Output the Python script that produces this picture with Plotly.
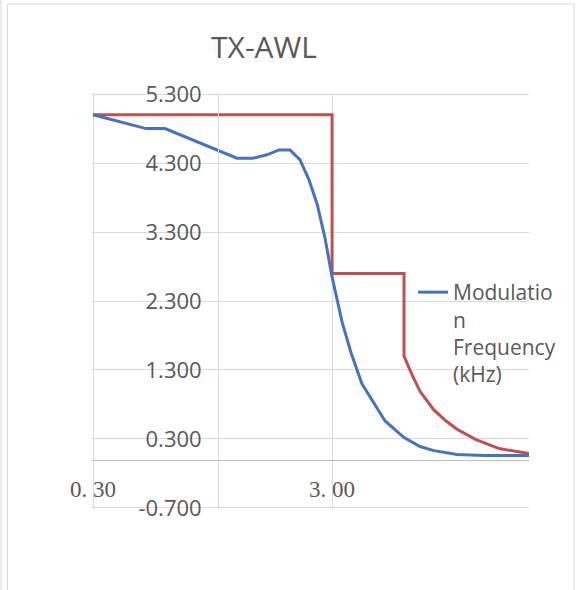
import math
import plotly.graph_objects as go

# ---- data ----
blue_x = [0.3, 0.5, 0.6, 1.2, 1.4, 1.6, 1.8, 2.0, 2.2, 2.4, 2.6, 2.8, 3.0,
          3.3, 3.6, 4.0, 5.0, 6.0, 7.0, 8.0, 10.0, 13.0, 20.0]
blue_y = [5.0, 4.8, 4.8, 4.37, 4.37, 4.42, 4.49, 4.49, 4.35, 4.06, 3.7, 3.22, 2.65,
          2.0, 1.55, 1.1, 0.56, 0.32, 0.19, 0.13, 0.075, 0.06, 0.06]

red_x = [0.3, 3.0, 3.0, 6.0, 6.0, 6.5, 7.0, 8.0, 9.0, 10.0, 12.0, 15.0, 20.0]
red_y = [5.0, 5.0, 2.7, 2.7, 1.5, 1.22, 0.99, 0.72, 0.56, 0.44, 0.29, 0.16, 0.087]

series_name = "Modulatio<br>n<br>Frequency<br>(kHz)"
title_text = "TX-AWL"

x_tick_vals = [0.3, 3.0]
x_tick_text = ["0. 30", "3. 00"]
y_tick_vals = [-0.7, 0.3, 1.3, 2.3, 3.3, 4.3, 5.3]
y_tick_text = ["-0.700", "0.300", "1.300", "2.300", "3.300", "4.300", "5.300"]

x_range = [0.3, 20.0]
y_range = [-0.7, 5.3]
x_cross = 1.0   # vertical axis crosses the x axis here
y_cross = 0.0   # horizontal axis crosses the y axis here

# ---- layout geometry ----
W, H = 579, 590
ML, MR, MT, MB = 92, 50, 93, 81
pw, ph = W - ML - MR, H - MT - MB

def px_to_paper_x(px):
    return (px - ML) / pw

def px_to_paper_y(py):
    return 1 - (py - MT) / ph

# small padding so the edge gridlines (0.3, -0.7, 5.3) stay visible
eps_x, eps_y = 0.0045, 0.016
lx0, lx1 = math.log10(x_range[0]) - eps_x, math.log10(x_range[1])
yr0, yr1 = y_range[0] - eps_y, y_range[1] + eps_y
yaxis_pos = (math.log10(x_cross) - lx0) / (lx1 - lx0)
xaxis_pos = (y_cross - yr0) / (yr1 - yr0)

grid = "#d9d9d9"
text_col = "#595959"

fig = go.Figure()
fig.add_trace(go.Scatter(x=red_x, y=red_y, mode="lines", name="Limit",
                         line=dict(color="#C0504D", width=3), showlegend=False))
fig.add_trace(go.Scatter(x=blue_x, y=blue_y, mode="lines", name=series_name,
                         line=dict(color="#4472C4", width=3), showlegend=True))

fig.update_layout(
    width=W, height=H,
    margin=dict(l=ML, r=MR, t=MT, b=MB),
    paper_bgcolor="white", plot_bgcolor="white",
    title=dict(text=title_text, x=264 / W, xanchor="center",
               y=1 - 47 / H, yanchor="middle",
               font=dict(family="Open Sans", size=30, color=text_col)),
    xaxis=dict(type="log", range=[lx0, lx1], tickmode="array",
               tickvals=x_tick_vals, ticktext=x_tick_text,
               showgrid=True, gridcolor=grid, gridwidth=1,
               showline=True, linecolor="#bfbfbf", linewidth=1,
               anchor="free", position=xaxis_pos, ticks="",
               ticklabelstandoff=9,
               tickfont=dict(family="Liberation Serif", size=23, color=text_col),
               zeroline=False),
    yaxis=dict(range=[yr0, yr1], tickmode="array", tickvals=y_tick_vals,
               ticktext=y_tick_text, showgrid=True, gridcolor=grid, gridwidth=1,
               showline=True, linecolor=grid, linewidth=1,
               anchor="free", position=yaxis_pos, ticks="",
               ticklabelstandoff=12,
               tickfont=dict(family="Open Sans", size=22, color=text_col),
               zeroline=False),
    legend=dict(x=px_to_paper_x(413), xanchor="left",
                y=px_to_paper_y(272), yanchor="top",
                bgcolor="rgba(0,0,0,0)", borderwidth=0, valign="top",
                font=dict(family="Open Sans", size=21, color=text_col)),
    showlegend=True,
    shapes=[
        dict(type="rect", xref="paper", yref="paper",
             x0=px_to_paper_x(7.5), x1=px_to_paper_x(574),
             y0=px_to_paper_y(593), y1=px_to_paper_y(4),
             line=dict(color="#d9d9d9", width=1), layer="below"),
        dict(type="line", xref="paper", yref="paper",
             x0=px_to_paper_x(1), x1=px_to_paper_x(1),
             y0=px_to_paper_y(593), y1=px_to_paper_y(0),
             line=dict(color="#d9d9d9", width=1), layer="below"),
    ],
)

fig.write_html("out.html", config={"displayModeBar": False},
               post_script="document.body.style.margin='0';")
